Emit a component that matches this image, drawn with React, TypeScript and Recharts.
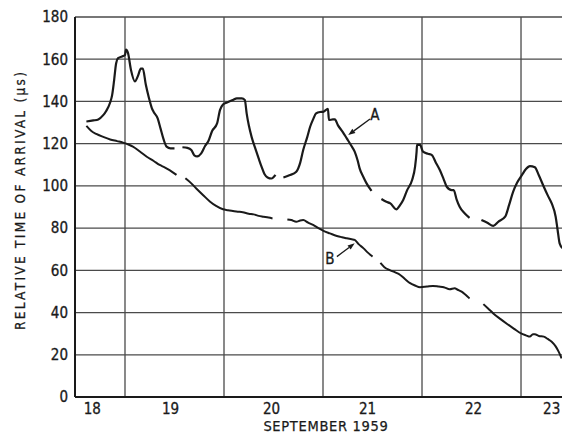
import React from 'react';
import {
  LineChart,
  Line,
  XAxis,
  YAxis,
  CartesianGrid,
  ReferenceLine,
  ReferenceDot,
} from 'recharts';

// time in days (integer = midnight), value in microseconds; null = gap in the record
const curveA: [number, number | null][] = [
  [18.61, 130.5], [18.68, 131], [18.73, 131.5], [18.78, 133.5], [18.81, 135.5], [18.85, 139.5],
  [18.87, 143], [18.89, 150], [18.91, 158], [18.93, 160.5], [18.97, 161.3], [19.0, 162],
  [19.01, 164.5], [19.03, 163], [19.06, 155], [19.1, 149.5], [19.13, 152], [19.16, 155.5],
  [19.18, 155.5], [19.21, 148], [19.24, 142], [19.27, 137], [19.29, 135], [19.33, 132],
  [19.36, 127], [19.39, 122], [19.42, 118.6], [19.46, 117.8], [19.5, 117.8],
  [19.54, null],
  [19.58, 118.3], [19.63, 118], [19.67, 117], [19.7, 114.5], [19.73, 114], [19.77, 115.4],
  [19.81, 119], [19.84, 121], [19.88, 126], [19.93, 129.6], [19.96, 136], [19.99, 138.5],
  [20.03, 139.5], [20.09, 140.7], [20.13, 141.5], [20.18, 141.5], [20.21, 140.7], [20.23, 134],
  [20.25, 128.8], [20.28, 123], [20.31, 118.6], [20.35, 113], [20.38, 109], [20.41, 105.5],
  [20.44, 104], [20.48, 103.5], [20.52, 105.2],
  [20.56, null],
  [20.6, 104], [20.66, 105], [20.73, 106.7], [20.77, 111], [20.8, 117], [20.84, 123],
  [20.87, 128], [20.9, 131.5], [20.93, 134.3], [20.97, 135], [21.0, 135.1], [21.05, 136.5],
  [21.06, 131.2], [21.1, 131.5], [21.12, 131.5], [21.15, 128.8], [21.2, 125.5], [21.24, 122.5],
  [21.28, 119.5], [21.32, 116.2], [21.35, 112], [21.37, 108.3], [21.41, 104], [21.44, 101.2],
  [21.49, 97.6],
  [21.54, null],
  [21.59, 93.8], [21.64, 92.5], [21.68, 91.7], [21.74, 88.9], [21.78, 91], [21.81, 93.3],
  [21.85, 98], [21.9, 102.8], [21.93, 109.1], [21.945, 116], [21.95, 119.4], [21.98, 119.4],
  [22.01, 116.2], [22.06, 115.2], [22.1, 114.6], [22.14, 111], [22.18, 107.5], [22.22, 103],
  [22.25, 99.6], [22.3, 98], [22.32, 98], [22.35, 93.5], [22.38, 90.1], [22.43, 87],
  [22.48, 84.9],
  [22.54, null],
  [22.6, 83.8], [22.66, 82.5], [22.72, 81.1], [22.77, 83], [22.84, 85.4], [22.88, 91],
  [22.92, 97.2], [22.96, 101.5], [23.01, 105.2], [23.05, 108], [23.09, 109.4], [23.14, 108.8],
  [23.18, 105], [23.23, 99.6], [23.27, 95.5], [23.31, 91.7], [23.35, 85.4], [23.37, 79],
  [23.39, 72.8], [23.42, 70.5],
];

const curveB: [number, number | null][] = [
  [18.61, 128.4], [18.66, 126], [18.71, 124.6], [18.78, 123.2], [18.85, 122], [18.92, 121.2],
  [18.98, 120.5], [19.04, 119.5], [19.08, 118.6], [19.15, 116.3], [19.22, 113.8], [19.29, 111.8],
  [19.35, 109.9], [19.4, 108.8], [19.45, 107.5], [19.52, 105.2],
  [19.56, null],
  [19.61, 103.6], [19.67, 101.2], [19.72, 98.8], [19.79, 95.6], [19.86, 92.5], [19.92, 90.5],
  [19.99, 88.9], [20.04, 88.5], [20.09, 88.1], [20.14, 87.8], [20.19, 87.5], [20.25, 86.8],
  [20.3, 86.5], [20.35, 85.8], [20.4, 85.4], [20.45, 85], [20.49, 84.6],
  [20.56, null],
  [20.64, 84.1], [20.68, 83.8], [20.73, 83], [20.77, 83.6], [20.8, 83.8], [20.85, 82.6],
  [20.9, 81.5], [20.95, 80.1], [21.0, 78.8], [21.07, 77.5], [21.14, 76.3], [21.19, 75.7],
  [21.24, 75.2], [21.29, 74.7], [21.32, 74.4], [21.36, 72.4], [21.41, 70.4], [21.45, 68.5],
  [21.5, 66.5],
  [21.54, null],
  [21.58, 63.5], [21.62, 61.5], [21.68, 60], [21.73, 59], [21.78, 57.8], [21.83, 55.8],
  [21.88, 53.9], [21.93, 52.8], [21.98, 52], [22.05, 52.3], [22.11, 52.6], [22.17, 52.3],
  [22.22, 52], [22.28, 51], [22.33, 51.5], [22.36, 50.8], [22.4, 49.9], [22.44, 48.4],
  [22.48, 46.7],
  [22.55, null],
  [22.62, 44], [22.67, 41.8], [22.72, 39.6], [22.79, 37], [22.86, 34.6], [22.93, 32.3],
  [23.0, 30.1], [23.05, 29.2], [23.09, 28.6], [23.12, 29.7], [23.14, 29.7], [23.18, 28.9],
  [23.23, 28.6], [23.27, 27.5], [23.31, 26.2], [23.35, 24], [23.38, 21.5], [23.41, 18.3],
];

const dayBoundaries = [19, 20, 21, 22, 23];
const xTickValues = [18.67, 19.46, 20.48, 21.45, 22.52, 23.31];
const xTickLabels = ['18', '19', '20', '21', '22', '23'];
const yTicks = [0, 20, 40, 60, 80, 100, 120, 140, 160, 180];

// curve labels: [name, label position, arrow tail, arrow head on curve]
const curveLabels: { name: string; at: [number, number]; from: [number, number]; to: [number, number] }[] = [
  { name: 'A', at: [21.525, 133.6], from: [21.475, 131.7], to: [21.255, 124.1] },
  { name: 'B', at: [21.07, 65.4], from: [21.14, 66.5], to: [21.32, 72.8] },
];

const toRows = (pts: [number, number | null][]) => pts.map(([t, v]) => ({ t, v }));

const FONT = '"DejaVu Sans Condensed", "Liberation Sans Narrow", "DejaVu Sans", sans-serif';
const INK = '#1a1a1a';
const GRID = '#4a4a4a';

const Arrow = (props: any) => {
  const { x1, y1, x2, y2 } = props;
  // head sits at the second point
  const ang = Math.atan2(y2 - y1, x2 - x1);
  const len = 7;
  const w = 2.6;
  const bx = x2 - len * Math.cos(ang);
  const by = y2 - len * Math.sin(ang);
  const px = -Math.sin(ang) * w;
  const py = Math.cos(ang) * w;
  return (
    <g>
      <line x1={x1} y1={y1} x2={bx} y2={by} stroke={INK} strokeWidth={1.3} />
      <polygon points={`${x2},${y2} ${bx + px},${by + py} ${bx - px},${by - py}`} fill={INK} />
    </g>
  );
};

const labelShape = (name: string) => (props: any) => (
  <text
    x={props.cx}
    y={props.cy}
    textAnchor="middle"
    dominantBaseline="central"
    fontFamily={FONT}
    fontSize={15}
    fill={INK}
    stroke={INK}
    strokeWidth={0.3}
  >
    {name}
  </text>
);

const YTitle = (props: any) => {
  const vb = props.viewBox || { x: 0, y: 17, width: 75, height: 380 };
  const cx = vb.x + 20;
  const cy = vb.y + vb.height / 2 - 6;
  return (
    <text
      x={cx}
      y={cy}
      transform={`rotate(-90 ${cx} ${cy})`}
      textAnchor="middle"
      dominantBaseline="central"
      fontFamily={FONT}
      fontSize={13.5}
      fill={INK}
      stroke={INK}
      strokeWidth={0.25}
      textLength={258}
      lengthAdjust="spacing"
    >
      RELATIVE  TIME  OF  ARRIVAL  (μs)
    </text>
  );
};

const XTitle = (props: any) => {
  const vb = props.viewBox || { x: 75, y: 397, width: 487, height: 39 };
  return (
    <text
      x={vb.x + 251}
      y={vb.y + 29}
      textAnchor="middle"
      dominantBaseline="central"
      fontFamily={FONT}
      fontSize={14.5}
      fill={INK}
      stroke={INK}
      strokeWidth={0.25}
      letterSpacing={0.7}
    >
      SEPTEMBER   1959
    </text>
  );
};

export default function App() {
  const tickStyle = { fontFamily: FONT, fontSize: 15, fill: INK, stroke: INK, strokeWidth: 0.3 };
  return (
    <div style={{ position: 'absolute', left: 0, top: 0, width: 562, height: 436, background: '#fff' }}>
      <LineChart width={562} height={436} margin={{ top: 17, right: 0, bottom: 0, left: 0 }}>
        <CartesianGrid vertical={false} stroke={GRID} strokeWidth={1.3} />
        <XAxis
          type="number"
          dataKey="t"
          domain={[18.495, 23.414]}
          allowDataOverflow
          ticks={xTickValues}
          interval={0}
          tickFormatter={(_v: number, i: number) => xTickLabels[i]}
          tickLine={false}
          tickSize={0}
          tickMargin={6}
          tick={tickStyle}
          axisLine={{ stroke: INK, strokeWidth: 2 }}
          height={39}
          label={{ content: XTitle }}
        />
        <YAxis
          type="number"
          domain={[0, 180]}
          ticks={yTicks}
          interval={0}
          tickLine={false}
          tickSize={0}
          tickMargin={7}
          tick={tickStyle}
          axisLine={{ stroke: INK, strokeWidth: 2 }}
          width={75}
          label={{ content: YTitle }}
        />
        {dayBoundaries.map((d) => (
          <ReferenceLine key={d} x={d} stroke={GRID} strokeWidth={1.3} />
        ))}
        <Line
          data={toRows(curveA)}
          dataKey="v"
          type="monotone"
          stroke={INK}
          strokeWidth={2.2}
          dot={false}
          connectNulls={false}
          isAnimationActive={false}
        />
        <Line
          data={toRows(curveB)}
          dataKey="v"
          type="monotone"
          stroke={INK}
          strokeWidth={2}
          dot={false}
          connectNulls={false}
          isAnimationActive={false}
        />
        {curveLabels.map((c) => (
          <ReferenceLine
            key={`arrow-${c.name}`}
            segment={[{ x: c.from[0], y: c.from[1] }, { x: c.to[0], y: c.to[1] }]}
            shape={Arrow}
          />
        ))}
        {curveLabels.map((c) => (
          <ReferenceDot key={`label-${c.name}`} x={c.at[0]} y={c.at[1]} r={4} shape={labelShape(c.name)} />
        ))}
      </LineChart>
    </div>
  );
}
